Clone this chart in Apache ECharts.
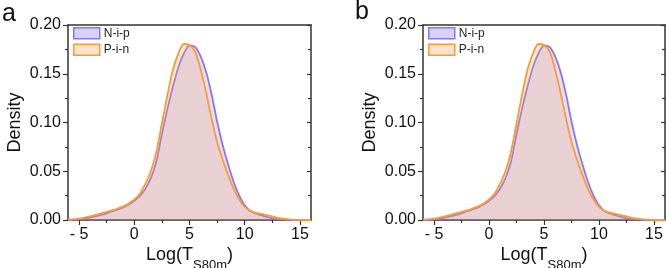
<!DOCTYPE html>
<html>
<head>
<meta charset="utf-8">
<script src="https://cdn.jsdelivr.net/npm/echarts@6/dist/echarts.min.js"></script>
<style>
html,body{margin:0;padding:0;background:#fff;}
#c{width:666px;height:268px;}
</style>
</head>
<body>
<div id="c"></div>
<script>
// x grid (Log(T_S80m))
const xs = [-6,-5.5,-5,-4.5,-4,-3.5,-3,-2.5,-2,-1.5,-1,-0.5,0,0.5,1,1.5,2,2.5,3,3.5,4,4.5,5,5.5,6,6.5,7,7.5,8,8.5,9,9.5,10,10.5,11,11.5,12,12.5,13,13.5,14,14.5,15,15.5,16];
// N-i-p density
const nip = [0.0001,0.0003,0.0007,0.0014,0.0025,0.0039,0.0053,0.0069,0.0090,0.0108,0.0130,0.0160,0.0198,0.0245,0.0320,0.0430,0.0600,0.0880,0.1140,0.1370,0.1570,0.1710,0.1790,0.1775,0.1680,0.1520,0.1290,0.1010,0.0770,0.0570,0.0390,0.0250,0.0150,0.0093,0.0067,0.0049,0.0032,0.0019,0.0011,0.0006,0.0003,0.0001,0,0,0];
// P-i-n density
const pin = [0.0003,0.0007,0.0013,0.0024,0.0038,0.0053,0.0068,0.0083,0.0099,0.0118,0.0140,0.0170,0.0210,0.0270,0.0370,0.0500,0.0700,0.0990,0.1280,0.1540,0.1710,0.1805,0.1795,0.1730,0.1550,0.1310,0.1040,0.0800,0.0620,0.0460,0.0320,0.0210,0.0135,0.0095,0.0075,0.0062,0.0050,0.0036,0.0023,0.0013,0.0007,0.0003,0.0001,0,0];
const xMajor = [-5,0,5,10,15];
const xMinor = [-2.5,2.5,7.5,12.5];
const seriesNames = ['N-i-p','P-i-n'];
const panelLabels = ['a','b'];

const FONT = 'Liberation Sans, Arial, sans-serif';
const lineCol = ['#8878ee','#ff9a2e'];
const fillCol = ['rgba(122,105,222,0.30)','rgba(249,169,98,0.35)'];
const axisCol = '#333';

const grids = [
  {left:68, top:25, width:243, height:195, containLabel:false, outerBoundsMode:'none'},
  {left:423, top:25, width:242, height:195, containLabel:false, outerBoundsMode:'none'}
];

const chart = echarts.init(document.getElementById('c'), null, {renderer:'canvas'});
const xAxis = [], yAxis = [], series = [], legend = [], graphic = [];
grids.forEach((g, gi) => {
  const base = {gridIndex: gi, type:'value', min:-6, max:16, splitLine:{show:false},
    axisLine:{onZero:false, lineStyle:{color:axisCol,width:1.5}}};
  xAxis.push(Object.assign({}, base, {
    position:'bottom',
    axisTick:{show:true, inside:false, length:5, customValues:xMajor, lineStyle:{color:axisCol,width:1.2}},
    axisLabel:{show:true, customValues:xMajor, margin:7, fontSize:16, color:'#111', fontFamily:FONT,
      formatter: v => v < 0 ? '- ' + Math.abs(v) : String(v)},
    name:'{m|Log(T}{s|S80m}{m|)}', nameLocation:'middle', nameGap:26, nameMoveOverlap:false,
    nameTextStyle:{fontFamily:FONT, color:'#111', verticalAlign:'top', rich:{
      m:{fontSize:18, fontFamily:FONT, color:'#111', verticalAlign:'top', lineHeight:26},
      s:{fontSize:13, fontFamily:FONT, color:'#111', verticalAlign:'bottom', lineHeight:13}
    }}
  }));
  xAxis.push(Object.assign({}, base, {position:'top', axisTick:{show:false}, axisLabel:{show:false}}));
  xAxis.push(Object.assign({}, base, {position:'bottom', axisLine:{show:false, onZero:false},
    axisTick:{show:true, inside:false, length:3, customValues:xMinor, lineStyle:{color:axisCol,width:1.2}},
    axisLabel:{show:false, customValues:xMinor}}));
  const ybase = {gridIndex: gi, type:'value', min:0, max:0.2, interval:0.05, splitLine:{show:false},
    axisLine:{show:true, onZero:false, lineStyle:{color:axisCol,width:1.5}},
    minorTick:{show:true, splitNumber:2, length:3, lineStyle:{color:axisCol,width:1.2}}};
  yAxis.push(Object.assign({}, ybase, {position:'left',
    axisTick:{show:true, inside:false, length:5, lineStyle:{color:axisCol,width:1.2}},
    axisLabel:{show:true, margin:7, fontSize:16, color:'#111', fontFamily:FONT, formatter: v => v.toFixed(2)},
    name:'Density', nameLocation:'middle', nameGap:44, nameRotate:90,
    nameTextStyle:{fontSize:18, fontFamily:FONT, color:'#111'}
  }));
  yAxis.push(Object.assign({}, ybase, {position:'right',
    axisTick:{show:true, inside:true, length:4, lineStyle:{color:axisCol,width:1.2}},
    axisLabel:{show:false}}));
  [nip, pin].forEach((arr, si) => {
    series.push({
      name: seriesNames[si], type:'line', xAxisIndex: gi*3, yAxisIndex: gi*2,
      data: xs.map((x,i) => [x, arr[i]]), smooth:0.3, showSymbol:false, symbol:'none',
      lineStyle:{color:lineCol[si], width:1.8}, itemStyle:{color:lineCol[si]},
      areaStyle:{color:fillCol[si], origin:'start'}, z: 2+si, animation:false
    });
  });
  legend.push({
    left: g.left + 5, top: 27, orient:'vertical', itemGap:4, itemWidth:26, itemHeight:11,
    padding:0, selectedMode:false,
    textStyle:{fontSize:12, fontFamily:FONT, color:'#222', padding:[0,0,0,-1]},
    data: seriesNames.map((n, si) => ({name:n, icon:'rect',
      itemStyle:{color:fillCol[si], borderColor:lineCol[si], borderWidth:1.5}}))
  });
  graphic.push({type:'text', left: gi===0 ? 2 : 355, top: gi===0 ? 2 : 0,
    style:{text: panelLabels[gi], fontSize:25, fontFamily:FONT, fill:'#111'}});
});

chart.setOption({
  animation:false,
  backgroundColor:'#fff',
  grid: grids,
  xAxis, yAxis, series, legend, graphic
});
</script>
</body>
</html>
